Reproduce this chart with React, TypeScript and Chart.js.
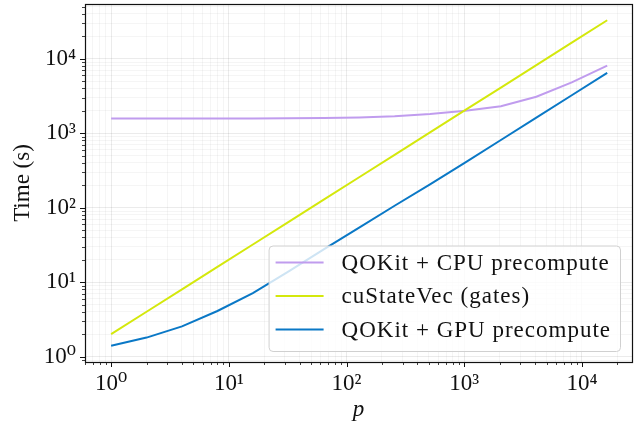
import React, { useEffect, useRef } from "react";
import { Chart, registerables } from "chart.js";

Chart.register(...registerables);

const pValues = [1, 2, 4, 8, 16, 32, 64, 128, 256, 512, 1024, 2048, 4096, 8192, 16384];
const cpuPrecompute = [1570, 1570, 1571, 1573, 1577, 1584, 1598, 1625, 1690, 1810, 2000, 2300, 3080, 4800, 8050];
const cuStateVec = [2, 4, 8, 16, 32, 64, 128, 256, 512, 1024, 2048, 4096, 8192, 16384, 32768];
const gpuPrecompute = [1.4, 1.8, 2.55, 4.1, 7.1, 13.8, 27.5, 54, 106, 205, 405, 810, 1620, 3230, 6460];

const seriesLabels = ["QOKit + CPU precompute", "cuStateVec (gates)", "QOKit + GPU precompute"];
const seriesColors = ["#c09cee", "#d4e80c", "#0a78c6"];
const xTitle = "p";
const yTitle = "Time (s)";

const FONT = "'Liberation Serif', 'DejaVu Serif', serif";
const SUP: Record<string, string> = { "0": "⁰", "1": "¹", "2": "²", "3": "³", "4": "⁴", "5": "⁵", "6": "⁶", "7": "⁷", "8": "⁸", "9": "⁹", "-": "⁻" };

function isPow10(v: number) {
  if (!(v > 0)) return false;
  const l = Math.log10(v);
  return Math.abs(l - Math.round(l)) < 1e-9;
}
function pow10Label(v: number) {
  const e = String(Math.round(Math.log10(v)));
  return "10" + e.split("").map((c) => SUP[c] || c).join("");
}
function logTicks(min: number, max: number) {
  const out: { value: number; major: boolean }[] = [];
  for (let d = Math.floor(Math.log10(min)); d <= Math.ceil(Math.log10(max)); d++) {
    for (let m = 1; m <= 9; m++) {
      const v = Number((m * Math.pow(10, d)).toPrecision(12));
      if (v >= min && v <= max) out.push({ value: v, major: m === 1 });
    }
  }
  return out;
}

const frameAndTicks = {
  id: "frameAndTicks",
  afterDatasetsDraw(chart: any) {
    const { ctx, chartArea: a, scales } = chart;
    ctx.save();
    ctx.strokeStyle = "#111";
    const xs = scales.x;
    const ys = scales.y;
    for (const t of xs.ticks) {
      const px = Math.round(xs.getPixelForValue(t.value)) + 0.5;
      const major = isPow10(t.value);
      ctx.lineWidth = major ? 1 : 0.8;
      ctx.beginPath();
      ctx.moveTo(px, a.bottom);
      ctx.lineTo(px, a.bottom + (major ? 5 : 3));
      ctx.stroke();
    }
    for (const t of ys.ticks) {
      const py = Math.round(ys.getPixelForValue(t.value)) + 0.5;
      const major = isPow10(t.value);
      ctx.lineWidth = major ? 1 : 0.8;
      ctx.beginPath();
      ctx.moveTo(a.left, py);
      ctx.lineTo(a.left - (major ? 5 : 3), py);
      ctx.stroke();
    }
    ctx.lineWidth = 1.2;
    ctx.strokeRect(Math.round(a.left) + 0.5, Math.round(a.top) + 0.5, Math.round(a.right - a.left), Math.round(a.bottom - a.top));
    ctx.restore();
  },
};

const boxLegend = {
  id: "boxLegend",
  afterDraw(chart: any) {
    const { ctx, chartArea: a } = chart;
    const ds = chart.data.datasets;
    ctx.save();
    ctx.font = `23px ${FONT}`;
    (ctx as any).letterSpacing = "1px";
    const textW = Math.max(...ds.map((d: any) => ctx.measureText(d.label).width));
    const pad = 7;
    const handle = 48;
    const gap = 18;
    const rowH = 33.5;
    const right = a.right - 12;
    const bottom = a.bottom - 11;
    const w = pad + handle + gap + textW + 9;
    const h = rowH * ds.length + 5;
    const left = right - w;
    const top = bottom - h;
    ctx.beginPath();
    ctx.roundRect(left + 0.5, top + 0.5, w, h, 4);
    ctx.fillStyle = "rgba(255,255,255,0.8)";
    ctx.fill();
    ctx.strokeStyle = "#d0d0d0";
    ctx.lineWidth = 1;
    ctx.stroke();
    ds.forEach((d: any, i: number) => {
      const cy = top + 17 + i * rowH;
      ctx.strokeStyle = d.borderColor;
      ctx.lineWidth = 2;
      ctx.beginPath();
      ctx.moveTo(left + pad, cy);
      ctx.lineTo(left + pad + handle, cy);
      ctx.stroke();
      ctx.fillStyle = "#111";
      ctx.textBaseline = "middle";
      ctx.textAlign = "left";
      ctx.fillText(d.label, left + pad + handle + gap, cy + 1);
    });
    ctx.restore();
  },
};

export default function App() {
  const ref = useRef<HTMLCanvasElement | null>(null);
  useEffect(() => {
    if (!ref.current) return;
    const mk = (vals: number[], i: number) => ({
      label: seriesLabels[i],
      data: pValues.map((p, k) => ({ x: p, y: vals[k] })),
      borderColor: seriesColors[i],
      backgroundColor: seriesColors[i],
      borderWidth: 2,
      pointRadius: 0,
      tension: 0,
      fill: false,
      order: 3 - i,
    });
    const gridColor = (c: any) => (c.tick && isPow10(c.tick.value) ? "rgba(0,0,0,0.08)" : "rgba(0,0,0,0.04)");
    const chart = new Chart(ref.current, {
      type: "line",
      data: { datasets: [mk(cpuPrecompute, 0), mk(cuStateVec, 1), mk(gpuPrecompute, 2)] },
      options: {
        animation: false,
        responsive: true,
        maintainAspectRatio: false,
        layout: { padding: { top: 4, right: 12, left: 0, bottom: 0 } },
        plugins: { legend: { display: false }, tooltip: { enabled: false } },
        scales: {
          x: {
            type: "logarithmic",
            min: 0.6154,
            max: 26610,
            afterBuildTicks: (s: any) => { s.ticks = logTicks(s.min, s.max); },
            afterFit: (s: any) => { s.height = 64; s.paddingLeft = 0; s.paddingRight = 0; },
            grid: { color: gridColor, lineWidth: 1, drawTicks: false },
            border: { display: false },
            ticks: {
              autoSkip: false,
              maxRotation: 0,
              padding: 8,
              color: "#111",
              font: { family: FONT, size: 23 },
              callback: (v: any) => (isPow10(Number(v)) ? pow10Label(Number(v)) : ""),
            },
            title: { display: true, text: xTitle, color: "#111", font: { family: FONT, size: 23, style: "italic" }, padding: { top: 0, bottom: 2 } },
          },
          y: {
            type: "logarithmic",
            min: 0.8466,
            max: 54200,
            afterBuildTicks: (s: any) => { s.ticks = logTicks(s.min, s.max); },
            afterFit: (s: any) => { s.width = 85; s.paddingTop = 0; s.paddingBottom = 0; },
            grid: { color: gridColor, lineWidth: 1, drawTicks: false },
            border: { display: false },
            ticks: {
              autoSkip: false,
              padding: 9,
              color: "#111",
              font: { family: FONT, size: 23 },
              callback: (v: any) => (isPow10(Number(v)) ? pow10Label(Number(v)) : ""),
            },
            title: { display: true, text: yTitle, color: "#111", font: { family: FONT, size: 23 }, padding: { top: 9, bottom: 0 } },
          },
        },
      },
      plugins: [frameAndTicks, boxLegend],
    } as any);
    return () => chart.destroy();
  }, []);
  return (
    <div style={{ position: "absolute", left: 0, top: 0, width: 644, height: 426 }}>
      <canvas ref={ref} />
    </div>
  );
}
